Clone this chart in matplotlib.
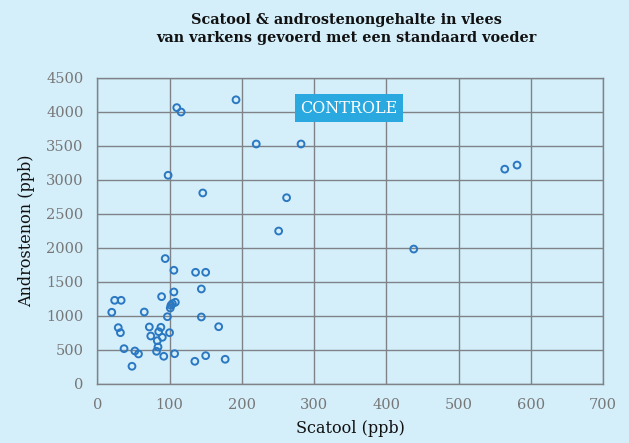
import matplotlib.pyplot as plt

# Scatool (ppb) en androstenon (ppb) per varken
scatool = [110, 116, 192, 220, 282, 98, 146, 262, 251, 438, 564, 581,
           94, 106, 136, 150, 144, 89, 106, 24, 33, 20, 65, 108, 104, 102,
           101, 97, 144, 168, 29, 32, 72, 88, 85, 100, 74, 90, 83, 84, 82,
           37, 52, 57, 92, 107, 150, 135, 177, 48]
androstenon = [4060, 3995, 4175, 3525, 3525, 3065, 2805, 2735, 2245, 1980, 3155, 3215,
               1840, 1668, 1638, 1638, 1393, 1280, 1349, 1226, 1226, 1050, 1054, 1197, 1176, 1153,
               1113, 985, 981, 838, 824, 750, 834, 829, 765, 750, 701, 682, 632, 540, 476,
               515, 481, 437, 403, 441, 412, 329, 359, 256]

x_ticks = [0, 100, 200, 300, 400, 500, 600, 700]
y_ticks = [0, 500, 1000, 1500, 2000, 2500, 3000, 3500, 4000, 4500]

bg = "#d4eefa"
grid = "#7f8388"

fig = plt.figure(figsize=(6.29, 4.43), dpi=100, facecolor=bg)
ax = fig.add_axes([0.1547, 0.1339, 0.8040, 0.6907], facecolor=bg)

ax.scatter(scatool, androstenon, s=24, facecolors="none", edgecolors="#2a78c2",
           linewidths=1.4, zorder=3)

ax.set_xlim(0, 700)
ax.set_ylim(0, 4500)
ax.set_xticks(x_ticks)
ax.set_yticks(y_ticks)
ax.grid(True, color=grid, linewidth=1.0)
ax.set_axisbelow(True)
for s in ax.spines.values():
    s.set_color(grid)
    s.set_linewidth(1.0)
ax.tick_params(length=0, labelsize=10.5, labelcolor="#777777", pad=10)
for lab in ax.get_xticklabels() + ax.get_yticklabels():
    lab.set_family("DejaVu Serif")

ax.set_xlabel("Scatool (ppb)", family="DejaVu Serif", fontsize=11.5, color="#111111", labelpad=6)
ax.set_ylabel("Androstenon (ppb)", family="DejaVu Serif", fontsize=11.5, color="#111111", labelpad=8)

ax.text(348, 4054, "CONTROLE", ha="center", va="center", color="white",
        family="DejaVu Serif", fontsize=11.5, zorder=4,
        bbox=dict(boxstyle="square,pad=0.35", facecolor="#29a9e0", edgecolor="none"))

fig.text(0.55, 0.97, "Scatool & androstenongehalte in vlees\nvan varkens gevoerd met een standaard voeder",
         ha="center", va="top", family="DejaVu Serif", fontweight="bold",
         fontsize=10.4, color="#111111", linespacing=1.3)

fig.savefig("out.png", dpi=100, facecolor=bg)
